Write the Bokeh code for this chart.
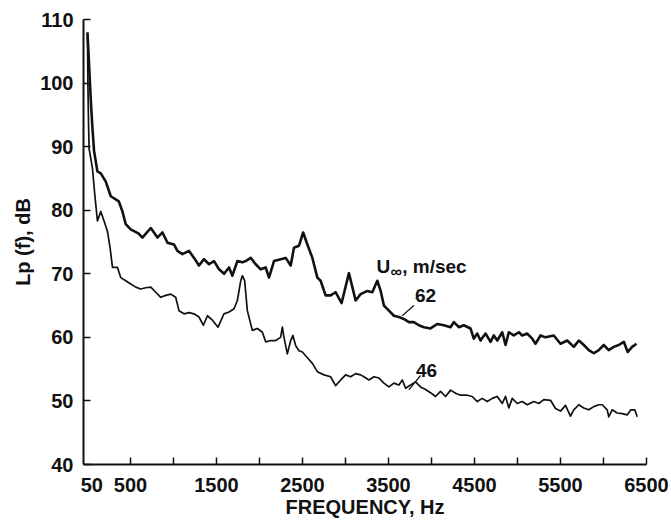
from bokeh.plotting import figure
from bokeh.models import FixedTicker, Label, Range1d
from bokeh.embed import file_html
from bokeh.resources import INLINE

# ---- data (Hz, dB) ----
freq_62 = [0, 15, 38, 58, 77, 116, 155, 213, 271, 329, 364, 407, 445, 503, 596, 639,
           736, 814, 872, 930, 1007, 1046, 1104, 1181, 1239, 1297, 1355, 1413, 1472,
           1530, 1588, 1646, 1685, 1743, 1801, 1840, 1898, 1956, 2014, 2072, 2111,
           2169, 2247, 2305, 2363, 2401, 2459, 2508, 2557, 2615, 2673, 2711, 2769,
           2827, 2885, 2955, 3040, 3080, 3118, 3176, 3254, 3312, 3370, 3409, 3447,
           3505, 3563, 3621, 3679, 3737, 3795, 3853, 3912, 3989, 4067, 4144, 4221,
           4260, 4318, 4376, 4454, 4492, 4532, 4570, 4628, 4687, 4725, 4765, 4823,
           4861, 4899, 4957, 5016, 5055, 5113, 5171, 5209, 5268, 5326, 5422, 5500,
           5578, 5655, 5713, 5771, 5829, 5887, 5945, 6003, 6061, 6119, 6178, 6236,
           6282, 6333, 6384]
lp_62 = [108, 104, 97.5, 92.9, 89.3, 86.1, 85.8, 84.5, 82.2, 81.7, 81.4, 79.8, 77.8,
         77.0, 76.3, 75.7, 77.2, 75.7, 76.5, 74.9, 74.6, 73.6, 73.1, 73.6, 72.5, 71.3,
         72.3, 71.5, 72.0, 70.7, 70.0, 71.0, 69.7, 72.0, 71.8, 72.0, 72.5, 71.5, 70.7,
         71.0, 69.4, 72.0, 72.3, 72.5, 71.3, 74.1, 74.4, 76.5, 74.6, 72.5, 69.4, 68.9,
         66.6, 66.6, 67.1, 65.4, 70.1, 67.9, 65.8, 66.8, 67.3, 67.1, 68.9, 67.3, 65.0,
         64.2, 63.4, 63.2, 62.9, 62.4, 62.4, 61.9, 61.6, 61.4, 62.1, 61.9, 61.6, 62.4,
         61.6, 61.9, 61.4, 59.8, 60.6, 59.5, 60.6, 59.3, 60.3, 59.5, 60.8, 58.8, 60.8,
         60.3, 60.8, 60.3, 60.6, 59.8, 59.0, 60.3, 60.0, 60.3, 59.0, 59.5, 58.5, 59.5,
         58.8, 58.0, 57.5, 58.0, 58.8, 58.0, 58.5, 58.8, 59.3, 57.7, 58.5, 59.0]

freq_46 = [0, 5, 12, 19, 58, 85, 116, 155, 193, 232, 263, 291, 349, 387, 445, 503,
           561, 619, 678, 736, 794, 852, 910, 968, 1026, 1064, 1123, 1181, 1239, 1297,
           1348, 1395, 1453, 1518, 1587, 1646, 1704, 1743, 1782, 1801, 1828, 1859,
           1917, 1976, 2034, 2072, 2130, 2188, 2246, 2266, 2285, 2324, 2363, 2389,
           2421, 2459, 2499, 2557, 2615, 2673, 2750, 2827, 2885, 2944, 3002, 3060,
           3118, 3176, 3214, 3273, 3331, 3389, 3447, 3505, 3563, 3621, 3661, 3699,
           3757, 3815, 3873, 3931, 3989, 4047, 4105, 4164, 4222, 4280, 4338, 4416,
           4474, 4532, 4590, 4648, 4707, 4765, 4823, 4861, 4899, 4939, 4997, 5055,
           5113, 5190, 5248, 5306, 5384, 5442, 5500, 5558, 5616, 5655, 5713, 5771,
           5829, 5887, 5945, 5985, 6043, 6061, 6101, 6159, 6217, 6275, 6318, 6364,
           6392]
lp_46 = [107.5, 100, 94, 89.7, 86.6, 82.5, 78.3, 79.8, 78.3, 76.7, 74.1, 71.0, 71.0,
         69.4, 68.9, 68.4, 67.9, 67.6, 67.8, 67.9, 67.1, 66.3, 66.6, 66.8, 66.3, 64.2,
         63.7, 63.9, 63.7, 63.2, 61.9, 63.4, 62.7, 61.6, 63.7, 64.0, 64.5, 65.8, 68.9,
         69.7, 68.9, 64.2, 61.1, 61.4, 60.8, 59.3, 59.5, 59.5, 60.0, 61.6, 60.0, 57.4,
         59.5, 60.3, 58.7, 57.9, 57.7, 56.8, 55.9, 54.6, 54.1, 53.8, 52.4, 53.3, 54.1,
         53.8, 54.3, 54.1, 53.8, 53.3, 53.8, 53.6, 52.8, 52.2, 52.8, 52.5, 53.3, 52.0,
         52.5, 53.0, 52.2, 51.8, 51.3, 50.7, 51.5, 50.7, 51.7, 51.2, 50.9, 50.9, 50.7,
         49.9, 50.4, 49.9, 50.4, 50.7, 49.6, 50.7, 48.9, 50.4, 49.6, 49.9, 49.4, 49.9,
         49.6, 50.2, 50.1, 48.8, 48.4, 49.3, 47.6, 48.6, 49.4, 48.9, 48.6, 49.1, 49.4,
         49.4, 48.6, 47.5, 48.6, 48.1, 48.0, 47.8, 48.6, 48.6, 47.5]

x_label_ticks = [50, 500, 1500, 2500, 3500, 4500, 5500, 6500]
x_minor_ticks = [500, 1000, 1500, 2000, 2500, 3000, 3500, 4000, 4500, 5000, 5500, 6000, 6500]
y_ticks = [40, 50, 60, 70, 80, 90, 100, 110]

INK = "#111111"
FONT = "Liberation Sans"

p = figure(width=670, height=528, output_backend="svg", toolbar_location=None,
           x_range=Range1d(-46, 6500), y_range=Range1d(40, 110),
           min_border_left=83, min_border_right=24, min_border_top=19,
           min_border_bottom=64)
p.outline_line_color = None
p.grid.visible = False

# curves
p.line(freq_62, lp_62, line_color=INK, line_width=2.6, line_join="round")
p.line(freq_46, lp_46, line_color=INK, line_width=1.7, line_join="round")

# axes
for ax in (p.xaxis[0], p.yaxis[0]):
    ax.axis_line_color = INK
    ax.axis_line_width = 2
    ax.major_tick_line_color = INK
    ax.major_tick_line_width = 1.5
    ax.minor_tick_line_color = INK
    ax.minor_tick_line_width = 1.5
    ax.major_label_text_font = FONT
    ax.major_label_text_font_style = "bold"
    ax.major_label_text_font_size = "20px"
    ax.major_label_text_color = INK
    ax.axis_label_text_font = FONT
    ax.axis_label_text_font_style = "bold"
    ax.axis_label_text_font_size = "20px"
    ax.axis_label_text_color = INK

xa = p.xaxis[0]
xa.ticker = FixedTicker(ticks=x_label_ticks, minor_ticks=x_minor_ticks)
xa.major_tick_in = 0
xa.major_tick_out = 0
xa.minor_tick_in = 7
xa.minor_tick_out = 0
xa.major_label_standoff = 13
xa.axis_label = "FREQUENCY, Hz"
xa.axis_label_standoff = 1

ya = p.yaxis[0]
ya.ticker = FixedTicker(ticks=y_ticks)
ya.major_tick_in = 7
ya.major_tick_out = 0
ya.minor_tick_in = 0
ya.minor_tick_out = 0
ya.major_label_standoff = 10
ya.axis_label = "Lp (f), dB"
ya.axis_label_standoff = 3

# annotations
def lab(x, y, text, size="19px", align="left"):
    p.add_layout(Label(x=x, y=y, text=text, text_font=FONT, text_font_style="bold",
                       text_font_size=size, text_color=INK, text_align=align,
                       text_baseline="alphabetic"))

lab(3362, 71.1, "U")
lab(3524, 70.4, "\u221e", size="16px")
lab(3660, 71.1, ", m/sec")
lab(3931, 66.6, "62", align="center")
lab(3943, 54.8, "46", align="center")

p.segment(x0=[3795, 3873], y0=[65.0, 54.0], x1=[3660, 3737], y1=[63.4, 51.75],
          line_color=INK, line_width=1.2)
p.segment(x0=[3803], y0=[66.1], x1=[4024], y1=[66.1], line_color="#999999",
          line_width=1, line_dash="1 2")

open("out.html", "w").write(file_html(p, INLINE))
